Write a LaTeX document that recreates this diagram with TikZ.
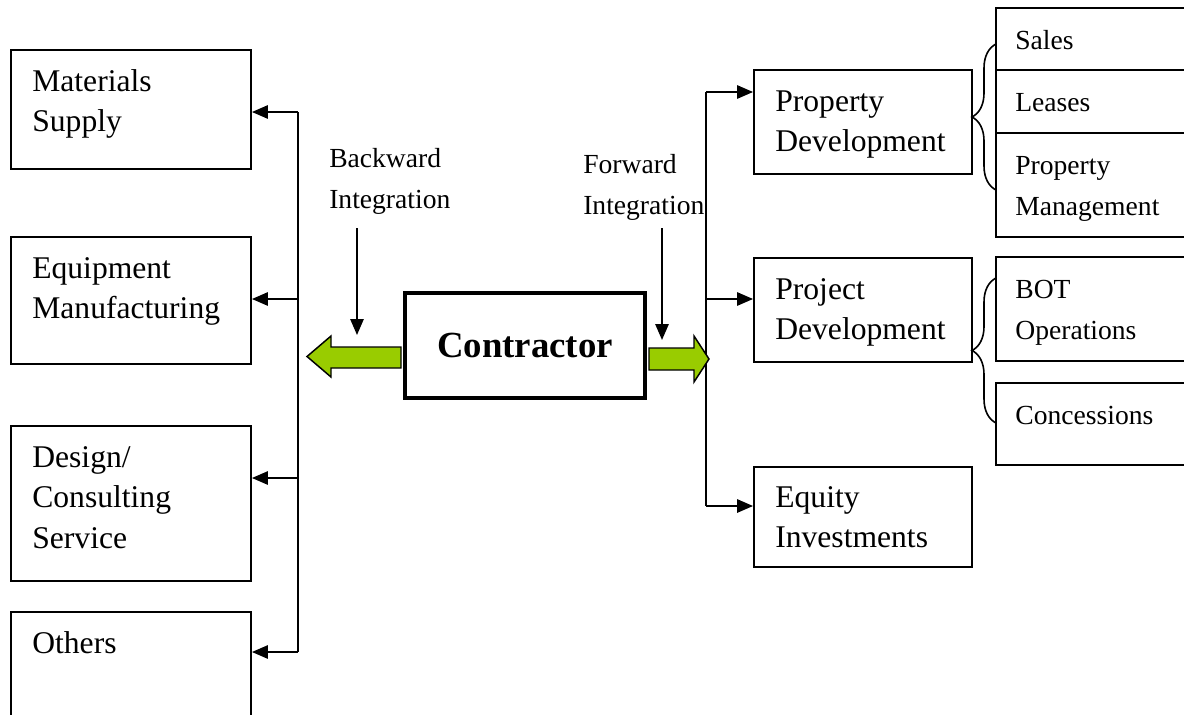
\documentclass[tikz,border=0pt]{standalone}
\usepackage{fontspec}
\setmainfont{Liberation Serif}
\usepackage{tikz}
\usetikzlibrary{arrows.meta,decorations.pathreplacing}

\definecolor{verdelime}{RGB}{153,204,0}

\begin{document}
\begin{tikzpicture}[
                x=0.75pt, y=-0.75pt,
                % Stile dei riquadri con il testo in alto a sinistra
                blocco/.style={
                    draw,
                    rectangle,
                    inner sep=0pt,
                    line width=1.4pt
                },
                % Stile del testo dentro i riquadri
                testo/.style={
                    anchor=base west,
                    inner sep=0pt,
                    align=left,
                    text width=150pt,
                    font=\fontsize{23.7}{30.5}\selectfont
                },
                piccolo/.style={
                    testo,
                    font=\fontsize{20.7}{31}\selectfont
                },
                % Stile per le frecce nere
                freccia/.style={
                    -{Triangle[length=12pt, width=10pt]},
                    line width=1.4pt
                },
                linea/.style={line width=1.4pt},
                % Frecce verdi larghe
                verde/.style={
                    draw=black,
                    line width=1.1pt,
                    fill=verdelime
                },
                % Parentesi graffe
                graffa/.style={
                    decorate,
                    decoration={brace, amplitude=18pt},
                    line width=1.2pt
                }
            ]

                \useasboundingbox (0,0) rectangle (1184,714);

                % 1. Blocco centrale
                \node [blocco, line width=3pt, minimum width=180pt, minimum height=78.75pt,
                       font=\bfseries\fontsize{27.6}{33}\selectfont] (contr) at (525,345.5) {Contractor};

                % 2. Riquadri a sinistra (integrazione a monte)
                \node [blocco, minimum width=180pt, minimum height=89.25pt] (mat) at (131,109.5) {};
                \node [testo] (mattxt) at ([shift={(22,42)}]mat.north west) {Materials\\Supply};
                \node [blocco, minimum width=180pt, minimum height=95.25pt] (equ) at (131,300.5) {};
                \node [testo] (equtxt) at ([shift={(22,42)}]equ.north west) {Equipment\\Manufacturing};
                \node [blocco, minimum width=180pt, minimum height=116.25pt] (des) at (131,503.5) {};
                \node [testo] (destxt) at ([shift={(22,42)}]des.north west) {Design/\\Consulting\\Service};
                \node [blocco, minimum width=180pt, minimum height=96pt] (oth) at (131,676) {};
                \node [testo] (othtxt) at ([shift={(22,42)}]oth.north west) {Others};

                % 3. Riquadri a destra (integrazione a valle)
                \node [blocco, minimum width=163.5pt, minimum height=78pt] (pro) at (863,122) {};
                \node [testo] (protxt) at ([shift={(22,42)}]pro.north west) {Property\\Development};
                \node [blocco, minimum width=163.5pt, minimum height=78pt] (prj) at (863,310) {};
                \node [testo] (prjtxt) at ([shift={(22,42)}]prj.north west) {Project\\Development};
                \node [blocco, minimum width=163.5pt, minimum height=75pt] (eqt) at (863,517) {};
                \node [testo] (eqttxt) at ([shift={(22,41)}]eqt.north west) {Equity\\Investments};

                % 4. Riquadri piu' a destra
                \node [blocco, minimum width=153pt, minimum height=46.5pt] (sal) at (1098,39) {};
                \node [piccolo] (saltxt) at ([shift={(20,42)}]sal.north west) {Sales};
                \node [blocco, minimum width=153pt, minimum height=47.25pt] (lea) at (1098,101.5) {};
                \node [piccolo] (leatxt) at ([shift={(20,42)}]lea.north west) {Leases};
                \node [blocco, minimum width=153pt, minimum height=78pt] (pma) at (1098,185) {};
                \node [piccolo] (pmatxt) at ([shift={(20,42)}]pma.north west) {Property\\Management};
                \node [blocco, minimum width=153pt, minimum height=78pt] (bot) at (1098,309) {};
                \node [piccolo] (bottxt) at ([shift={(20,42)}]bot.north west) {BOT\\Operations};
                \node [blocco, minimum width=153pt, minimum height=61.5pt] (cns) at (1098,424) {};
                \node [piccolo] (cnstxt) at ([shift={(20,42)}]cns.north west) {Concessions};

                % 5. Etichette delle integrazioni
                \node [piccolo] (bwd) at (329,167) {Backward\\Integration};
                \node [piccolo] (fwd) at (583,173) {Forward\\Integration};

                % 6. Linee verticali con le frecce verso i riquadri
                \coordinate (s1) at (298,112);
                \coordinate (s2) at (298,299);
                \coordinate (s3) at (298,478);
                \coordinate (s4) at (298,652);
                \draw [linea] (s1) -- (s4);
                \draw [freccia] (s1) -- (s1 -| mat.east);
                \draw [freccia] (s2) -- (s2 -| equ.east);
                \draw [freccia] (s3) -- (s3 -| des.east);
                \draw [freccia] (s4) -- (s4 -| oth.east);

                \coordinate (d1) at (706,92);
                \coordinate (d2) at (706,299);
                \coordinate (d3) at (706,506);
                \draw [linea] (d1) -- (d3);
                \draw [freccia] (d1) -- (d1 -| pro.west);
                \draw [freccia] (d2) -- (d2 -| prj.west);
                \draw [freccia] (d3) -- (d3 -| eqt.west);

                % 7. Frecce verdi ai lati del blocco centrale
                \draw [verde] ([shift={(-2,22.5)}]contr.west) -- ++(-70,0) -- ++(0,9)
                    -- ++(-24,-20.5) -- ++(24,-20.5) -- ++(0,11) -- ++(70,0) -- cycle;
                \draw [verde] ([shift={(2,24.5)}]contr.east) -- ++(45,0) -- ++(0,12)
                    -- ++(15,-23) -- ++(-15,-23) -- ++(0,12) -- ++(-45,0) -- cycle;

                % 8. Frecce piccole sotto le etichette
                \coordinate (bt) at (357,228);
                \coordinate (bb) at (357,335);
                \draw [freccia] (bt) -- (bb);
                \coordinate (ft) at (662,228);
                \coordinate (fb) at (662,340);
                \draw [freccia] (ft) -- (fb);

                % 9. Graffe
                \coordinate (g1a) at (996,190);
                \coordinate (g1b) at (996,44);
                \draw [graffa] (g1a) -- (g1b);
                \coordinate (g2a) at (996,423);
                \coordinate (g2b) at (996,278);
                \draw [graffa] (g2a) -- (g2b);

            \end{tikzpicture}
\end{document}
